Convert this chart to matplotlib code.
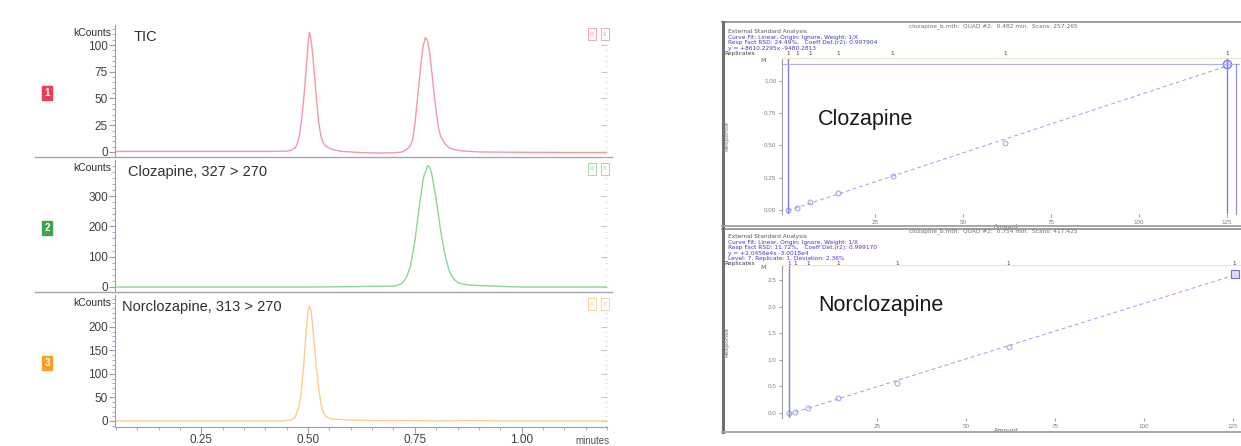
import matplotlib
matplotlib.use('Agg')
import matplotlib.pyplot as plt
from matplotlib.lines import Line2D
from matplotlib.ticker import MultipleLocator, NullFormatter, FixedLocator
import matplotlib.transforms as mtransforms
import numpy as np

plt.rcParams['font.family'] = ['Liberation Sans', 'DejaVu Sans']

# ---- chromatogram traces (minutes, kCounts) ----
tic_t = [0.05, 0.20, 0.40, 0.45, 0.46, 0.47, 0.475, 0.48, 0.485, 0.49, 0.495, 0.50, 0.503,
         0.506, 0.51, 0.515, 0.52, 0.525, 0.53, 0.535, 0.54, 0.55, 0.56, 0.58, 0.62, 0.66,
         0.70, 0.72, 0.73, 0.74, 0.745, 0.75, 0.755, 0.76, 0.765, 0.77, 0.775, 0.78, 0.785,
         0.79, 0.795, 0.80, 0.805, 0.81, 0.82, 0.83, 0.84, 0.86, 0.90, 1.00, 1.10, 1.20]
tic_y = [0.5, 0.5, 0.5, 0.8, 1.5, 4, 8, 16, 30, 50, 75, 100, 112,
         108, 95, 72, 48, 28, 15, 9, 6, 3.5, 2, 0.5, -0.5, -1,
         -0.8, 0, 2, 6, 12, 25, 45, 65, 85, 100, 107, 104, 92,
         74, 55, 38, 24, 15, 8, 4, 2.5, 1, 0, -0.3, -0.5, -0.5]

cloz_t = [0.05, 0.50, 0.60, 0.65, 0.70, 0.71, 0.72, 0.73, 0.74, 0.75, 0.76, 0.77, 0.78,
          0.785, 0.79, 0.80, 0.81, 0.82, 0.83, 0.84, 0.85, 0.86, 0.88, 0.90, 0.95, 1.00, 1.20]
cloz_y = [0, 0, 1, 2, 3, 6, 12, 30, 70, 150, 260, 360, 400,
          395, 370, 290, 190, 110, 55, 28, 15, 10, 6, 5, 2, 0, 0]

norc_t = [0.05, 0.44, 0.46, 0.47, 0.48, 0.485, 0.49, 0.495, 0.50, 0.503, 0.507, 0.51, 0.515,
          0.52, 0.525, 0.53, 0.535, 0.54, 0.55, 0.56, 0.60, 0.65, 0.70, 0.75, 0.80, 0.90,
          0.95, 1.20]
norc_y = [0, 0, 2, 8, 35, 70, 120, 185, 235, 245, 235, 210, 160,
          110, 68, 38, 20, 11, 6, 4, 2, 1, 0.5, 1, 0, 1,
          0, 0]

x_ticks = [0.25, 0.50, 0.75, 1.00]
x_ticklabels = ['0.25', '0.50', '0.75', '1.00']
tic_yticks = [0, 25, 50, 75, 100]
cloz_yticks = [0, 100, 200, 300]
norc_yticks = [0, 50, 100, 150, 200]

# ---- calibration curves ----
cloz_amount = [0.3, 2.8, 6.5, 14.5, 30, 62, 125]
cloz_resp = [0.0, 0.016, 0.062, 0.13, 0.26, 0.52, 1.13]
norc_amount = [0.2, 2, 5.6, 14, 30.6, 62, 125.5]
norc_resp = [0.0, 0.02, 0.09, 0.28, 0.57, 1.25, 2.62]
replicates = ['1', '1', '1', '1', '1', '1', '1']
amount_ticks = [25, 50, 75, 100, 125]

cloz_header = ['External Standard Analysis',
               'Curve Fit: Linear, Origin: Ignore, Weight: 1/X',
               'Resp Fact RSD: 24.49%,   Coeff Det.(r2): 0.997904',
               'y = +8610.2295x -9480.2813']
norc_header = ['External Standard Analysis',
               'Curve Fit: Linear, Origin: Ignore, Weight: 1/X',
               'Resp Fact RSD: 11.72%,   Coeff Det.(r2): 0.999170',
               'y = +2.0456e4x -3.0018e4',
               'Level: 7, Replicate: 1, Deviation: 2.36%']

W, H = 1241, 446


def fx(px):
    return px / W


def fy(py):
    return 1 - py / H


fig = plt.figure(figsize=(12.41, 4.46), dpi=100)


def hline(y, x0, x1, color, lw):
    fig.add_artist(Line2D([fx(x0), fx(x1)], [fy(y), fy(y)], color=color, lw=lw))


def vline(x, y0, y1, color, lw):
    fig.add_artist(Line2D([fx(x), fx(x)], [fy(y0), fy(y1)], color=color, lw=lw))


# ---- left: three chromatogram panels ----
panels = [
    (tic_t, tic_y, '#f29aa4', '#e8404f', 'TIC', '1', (25, 157), (-4.7, 118.7), tic_yticks, 5, 0.037),
    (cloz_t, cloz_y, '#8fd49a', '#3aa64a', 'Clozapine, 327 > 270', '2', (160, 292), (-16.5, 418.7), cloz_yticks, 20, 0.026),
    (norc_t, norc_y, '#f9cf8a', '#f5a020', 'Norclozapine, 313 > 270', '3', (295, 427), (-12.8, 268), norc_yticks, 10, 0.014),
]

for i, (t, y, lc, ic, title, num, (ytop, ybot), ylim, yticks, minor, tx) in enumerate(panels):
    ax = fig.add_axes([fx(115), fy(ybot), fx(607) - fx(115), (ybot - ytop) / H])
    ax.plot(t, y, color=lc, lw=1.0)
    ax.set_xlim(0.048, 1.20)
    ax.set_ylim(*ylim)
    ax.spines['top'].set_visible(False)
    ax.spines['right'].set_visible(False)
    ax.spines['left'].set_color('#9a9ab4')
    ax.yaxis.set_major_locator(FixedLocator(yticks))
    ax.yaxis.set_minor_locator(MultipleLocator(minor))
    ax.tick_params(axis='y', which='major', length=4, color='#9a9ab4', labelsize=8.5,
                   labelcolor='#404040', pad=1)
    ax.tick_params(axis='y', which='minor', length=2, color='#9a9ab4')
    sec = ax.secondary_yaxis('right')
    sec.spines['right'].set_visible(False)
    sec.yaxis.set_major_locator(FixedLocator(yticks))
    sec.yaxis.set_minor_locator(MultipleLocator(minor))
    sec.yaxis.set_major_formatter(NullFormatter())
    sec.tick_params(axis='y', which='major', direction='in', length=4, color='#c8c8c8')
    sec.tick_params(axis='y', which='minor', direction='in', length=1.5, color='#d8d8d8')
    ax.text(-0.008, 0.94, 'kCounts', transform=ax.transAxes, ha='right', va='center',
            fontsize=7.5, color='#303030')
    ax.text(tx, 0.91, title, transform=ax.transAxes, ha='left', va='center',
            fontsize=10.5, color='#303030')
    # channel icon on the left
    fig.text(fx(47), fy((ytop + ybot) / 2 + 2), num, ha='center', va='center', fontsize=7,
             fontweight='bold', color='white',
             bbox=dict(boxstyle='square,pad=0.25', fc=ic, ec=ic))
    # small icons top right
    for k, s in enumerate(['o', 'x']):
        fig.text(fx(592 + 13 * k), fy(ytop + 9), s, ha='center', va='center', fontsize=5,
                 color=lc, bbox=dict(boxstyle='square,pad=0.3', fc='white', ec=lc, lw=0.6))
    if i < 2:
        ax.spines['bottom'].set_visible(False)
        ax.set_xticks([])
        hline(ybot, 35, 612, '#a8a8a8', 1.0)
    else:
        ax.spines['bottom'].set_color('#a0a0a0')
        ax.xaxis.set_major_locator(FixedLocator(x_ticks))
        ax.set_xticklabels(x_ticklabels)
        ax.xaxis.set_minor_locator(MultipleLocator(0.05))
        ax.tick_params(axis='x', which='major', length=4, color='#a0a0a0', labelsize=8.5,
                       labelcolor='#404040', pad=1)
        ax.tick_params(axis='x', which='minor', length=2, color='#a0a0a0')

fig.text(fx(592), fy(445.5), 'minutes', ha='center', va='bottom', fontsize=7, color='#505050')

# ---- right: calibration curves ----
cals = [
    (cloz_amount, cloz_resp, cloz_header, 'clozapine_b.mth:  QUAD #2:  0.482 min.  Scans: 257:265',
     'Clozapine', (58, 214), (-0.031, 1.178), [0, 0.25, 0.5, 0.75, 1.0],
     ['0.00', '0.25', '0.50', '0.75', '1.00'], (-1.4, 128.7), (22, 226), 26.5, 120, 'o'),
    (norc_amount, norc_resp, norc_header, 'clozapine_b.mth:  QUAD #2:  0.754 min.  Scans: 417:425',
     'Norclozapine', (265, 418), (-0.094, 2.79), [0, 0.5, 1.0, 1.5, 2.0, 2.5],
     ['0.0', '0.5', '1.0', '1.5', '2.0', '2.5'], (-1.7, 127), (229, 432), 231.5, 305, 's'),
]

blue = '#3a3ad2'
light_blue = '#9c9cf0'
step = 5.4
for amount, resp, header, title, name, (ytop, ybot), ylim, yt, ytl, xlim, (ftop, fbot), hy, ny, mk in cals:
    # outer frame
    hline(ftop, 722, 1241, '#8c8c8c', 1.2)
    vline(723, ftop, fbot, '#707070', 2.2)
    hline(fbot, 722, 1241, '#a0a0a0', 1.3)
    fig.text(fx(993), fy(hy), title, ha='center', va='center', fontsize=4.2,
             family='DejaVu Sans', color='#707070')
    for k, line in enumerate(header):
        fig.text(fx(728), fy(hy + step * (k + 1)), line, ha='left', va='center', fontsize=4.2,
                 family='DejaVu Sans', color='#555555' if k == 0 else blue)
    fig.text(fx(724), fy(hy + step * (len(header) + 1)), 'Replicates', ha='left',
             va='center', fontsize=4.2, family='DejaVu Sans', color='#404040')

    ax = fig.add_axes([fx(782), fy(ybot), fx(1240) - fx(782), (ybot - ytop) / H])
    ax.set_xlim(*xlim)
    ax.set_ylim(*ylim)
    coef = np.polyfit(amount, resp, 1)
    xs = np.array([amount[0], amount[-1]])
    ax.plot(xs, np.polyval(coef, xs), color=light_blue, lw=0.7, ls=(0, (4, 3)))
    ax.plot(amount, resp, ls='none', marker='o', ms=3.5, mfc='none', mec=light_blue, mew=0.7)
    ax.plot(amount[-1], resp[-1], ls='none', marker=mk, ms=6, mfc='#dcdcff', mec='#7070e0', mew=0.8)
    ax.axvline(amount[0], color='#8080e8', lw=1.0)
    if mk == 'o':
        ax.axvline(amount[-1], color='#8080e8', lw=1.0)
        ax.axhline(resp[-1], color='#b0b0f4', lw=0.8)
        vline(1236, 64, 214, '#9090e8', 0.9)
    # replicate markers along the top row
    trans = mtransforms.blended_transform_factory(ax.transData, fig.transFigure)
    for a, r in zip(amount, replicates):
        fig.text(a, fy(hy + step * (len(header) + 1)), r, transform=trans, ha='center',
                 va='center', fontsize=4.2, family='DejaVu Sans', color='#404040')
    for s in ['right', 'bottom']:
        ax.spines[s].set_visible(False)
    ax.spines['top'].set_color('#e8e8c8')
    ax.spines['left'].set_color('#a0a0a0')
    ax.set_yticks(yt)
    ax.set_yticklabels(ytl)
    ax.set_xticks(amount_ticks)
    ax.set_xticklabels([str(v) for v in amount_ticks])
    ax.tick_params(axis='both', labelsize=4.5, labelcolor='#808080', color='#a0a0a0',
                   length=2, pad=2)
    ax.text(-0.035, 0.985, 'M', transform=ax.transAxes, ha='right', va='center', fontsize=4.5,
            family='DejaVu Sans', color='#606060')
    ax.text(0.49, -0.065, 'Amount', transform=ax.transAxes, ha='center', va='top', fontsize=4.5,
            family='DejaVu Sans', color='#606060')
    ax.text(-0.12, 0.5, 'Response', transform=ax.transAxes, rotation=90, ha='center',
            va='center', fontsize=4.5, family='DejaVu Sans', color='#707070')
    fig.text(fx(818), fy(ny), name, ha='left', va='center', fontsize=15.5, color='#1a1a1a')

fig.savefig('out.png', dpi=100)
